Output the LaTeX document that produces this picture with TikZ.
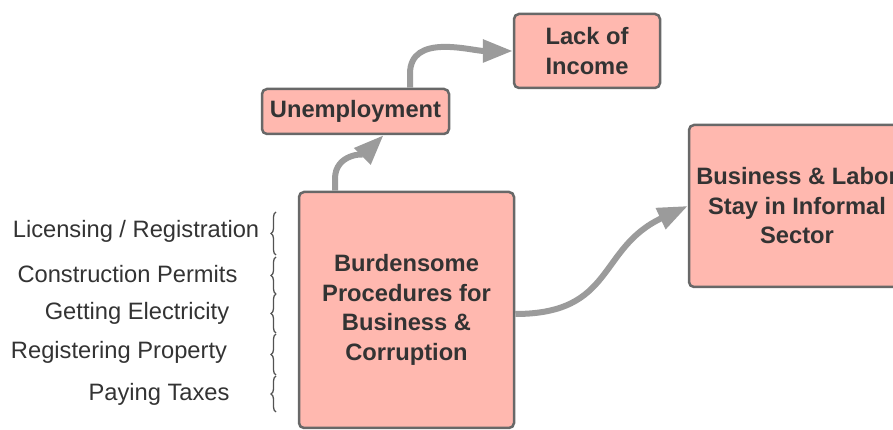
\documentclass[tikz,border=0pt]{standalone}
\usepackage{fontspec}
\setmainfont{Liberation Sans}
\usetikzlibrary{arrows.meta,decorations.pathreplacing}
\definecolor{boxfill}{HTML}{FFB8AF}
\definecolor{boxline}{HTML}{686868}
\definecolor{txt}{HTML}{333333}
\definecolor{linkgray}{HTML}{9B9B9B}
\begin{document}
\begin{tikzpicture}[x=1pt,y=1pt,semithick,
  box/.style={draw=boxline,line width=2.5pt,fill=boxfill,rounded corners=5pt,
    text=txt,font=\fontsize{23.7}{29.5}\selectfont\bfseries,align=center,inner sep=0pt},
  item/.style={text=txt,font=\fontsize{23.7}{28}\selectfont,inner sep=0pt},
  link/.style={draw=linkgray,line width=6pt,-{Triangle[length=30pt,width=22pt]}},
  grp/.style={draw=txt!85,line width=1.3pt,decorate,decoration={brace,amplitude=5pt}}]
\useasboundingbox (0,0) rectangle (893,430);
\clip (0,0) rectangle (893,430);
\node[box,minimum width=146pt,minimum height=74pt] (lack) at (587,379) {Lack of\\Income};
\node[box,minimum width=187pt,minimum height=45pt] (unemp) at (355.5,318.5) {Unemployment};
\node[box,minimum width=215pt,minimum height=236pt] (burden) at (406.5,120)
  {Burdensome\\Procedures for\\Business \&\\Corruption};
\node[box,minimum width=216pt,minimum height=162pt] (informal) at (797,224)
  {Business \& Labor\\Stay in Informal\\Sector};
\draw[link] ([xshift=-71.5pt]burden.north) -- ++(0,12) to[out=90,in=225] ([xshift=28pt]unemp.south);
\draw[link] ([xshift=54.5pt]unemp.north) -- ++(0,14) to[out=90,in=180] (lack.west);
\draw[link] ([yshift=-4pt]burden.east) to[out=0,in=205,looseness=1.25] (informal.west);
\node[item] (lic) at (136,199) {Licensing / Registration};
\node[item] (con) at (127.5,156) {Construction Permits};
\node[item] (elec) at (137,117) {Getting Electricity};
\node[item] (prop) at (119,78) {Registering Property};
\node[item] (tax) at (159,36) {Paying Taxes};
\foreach \lo/\hi in {175/218,136/173,97/136,55/96,18/54}
  \draw[grp] (276,\lo) -- (276,\hi);
\end{tikzpicture}
\end{document}
